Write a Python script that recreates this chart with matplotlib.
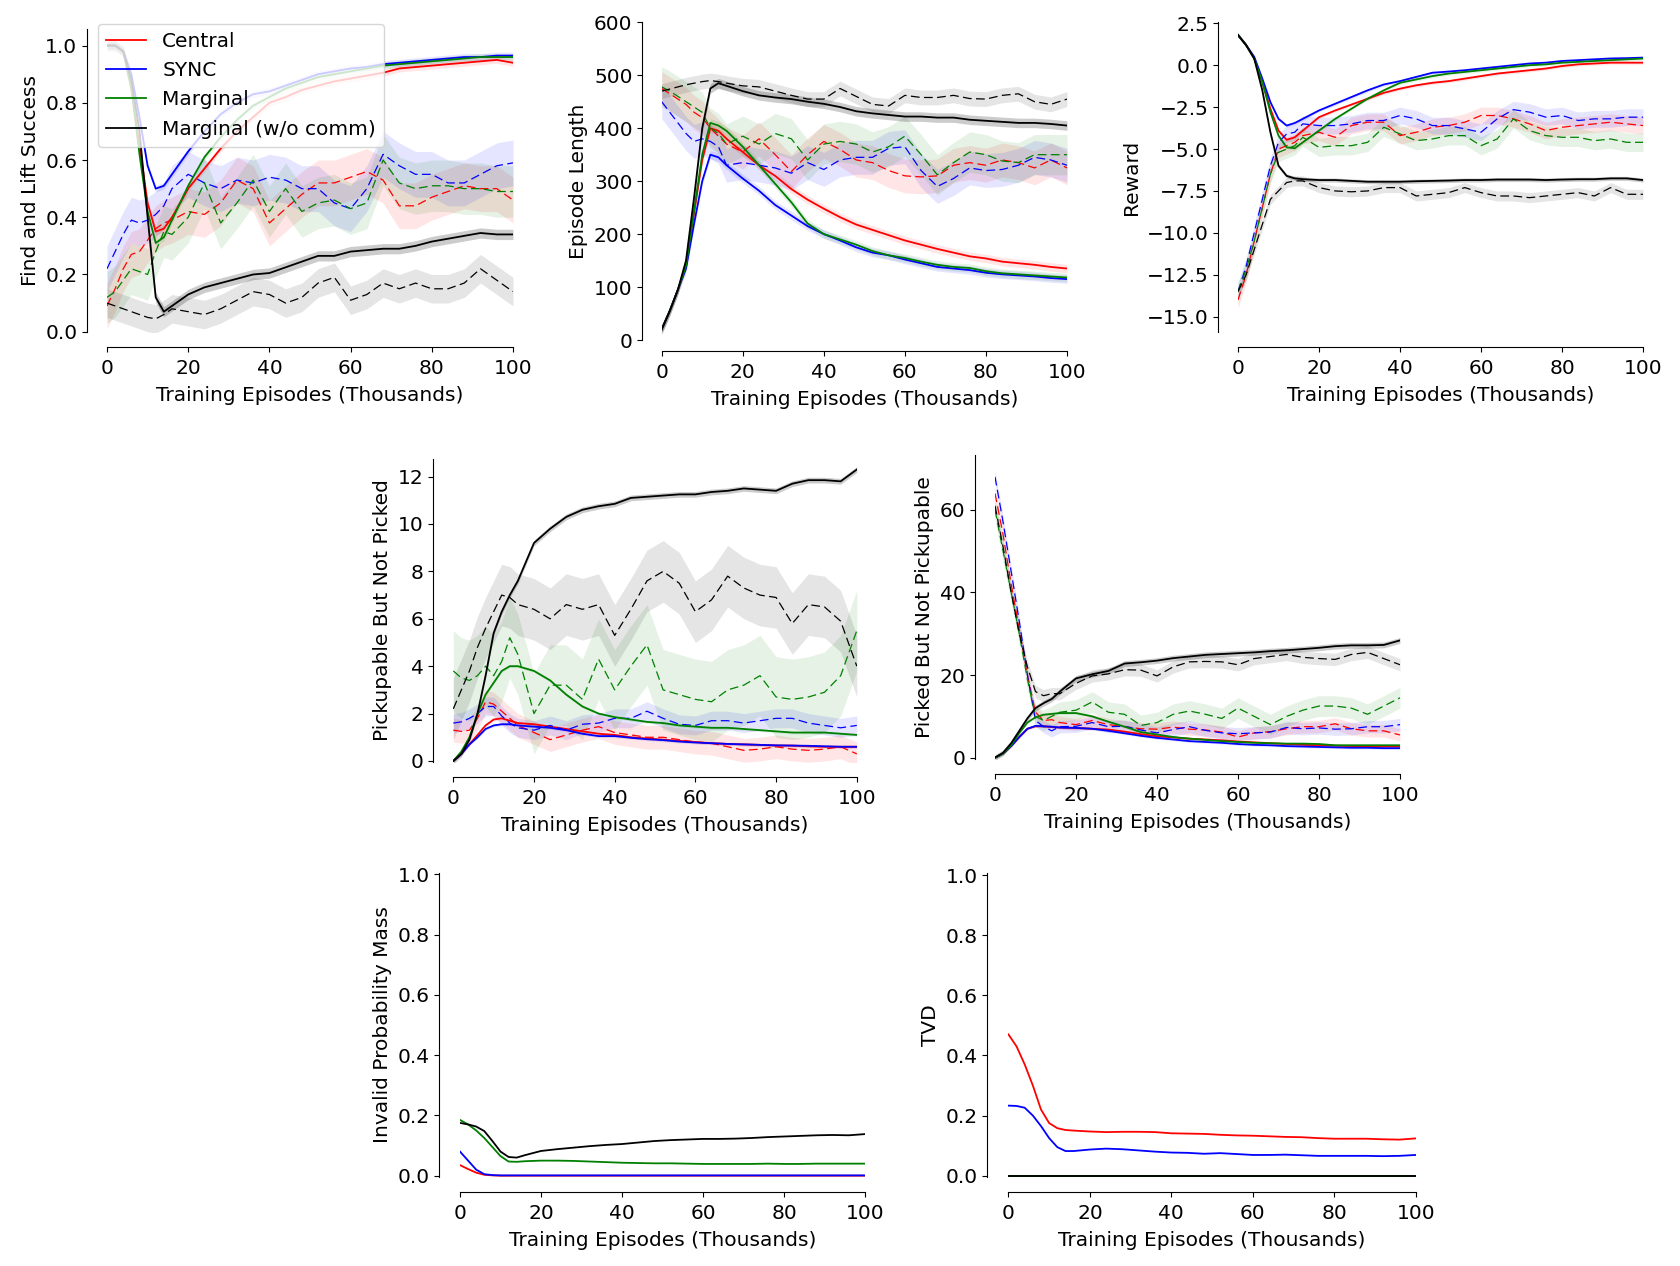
import matplotlib
matplotlib.use("Agg")
import matplotlib.pyplot as plt
import numpy as np

# x grid (thousands of training episodes)
X = [0, 2, 4, 6, 8, 10, 12, 14, 16, 20, 24, 28, 32, 36, 40, 44, 48, 52, 56, 60,
     64, 68, 72, 76, 80, 84, 88, 92, 96, 100]

METHODS = ["Central", "SYNC", "Marginal", "Marginal (w/o comm)"]
COLORS = ["red", "blue", "green", "black"]

# --- Find and Lift Success ---
SUCCESS_CENTRAL = [1.0, 1.0, 0.98, 0.85, 0.65, 0.45, 0.35, 0.36, 0.4, 0.5, 0.57, 0.64, 0.7, 0.75, 0.8,
                   0.82, 0.845, 0.86, 0.875, 0.885, 0.895, 0.905, 0.92, 0.925, 0.93, 0.935, 0.94, 0.945, 0.95, 0.94]
SUCCESS_SYNC = [1.0, 1.0, 0.98, 0.9, 0.75, 0.58, 0.5, 0.51, 0.55, 0.63, 0.7, 0.76, 0.8, 0.83, 0.84,
                0.86, 0.88, 0.9, 0.91, 0.92, 0.925, 0.935, 0.94, 0.945, 0.95, 0.955, 0.96, 0.96, 0.965, 0.965]
SUCCESS_MARGINAL = [1.0, 1.0, 0.98, 0.85, 0.62, 0.42, 0.31, 0.33, 0.39, 0.51, 0.61, 0.68, 0.74, 0.79, 0.82,
                    0.85, 0.87, 0.89, 0.9, 0.91, 0.92, 0.93, 0.935, 0.94, 0.945, 0.95, 0.955, 0.96, 0.96, 0.96]
SUCCESS_NOCOMM = [1.0, 1.0, 0.98, 0.88, 0.7, 0.4, 0.12, 0.07, 0.09, 0.13, 0.155, 0.17, 0.185, 0.2, 0.205,
                  0.225, 0.245, 0.265, 0.265, 0.28, 0.285, 0.29, 0.29, 0.3, 0.315, 0.325, 0.335, 0.345, 0.34, 0.34]
SUCCESS_CENTRAL_D = [0.09, 0.15, 0.22, 0.27, 0.28, 0.32, 0.36, 0.38, 0.39, 0.42, 0.41, 0.45, 0.53, 0.5, 0.38,
                     0.43, 0.48, 0.52, 0.52, 0.54, 0.56, 0.53, 0.44, 0.44, 0.47, 0.49, 0.51, 0.5, 0.5, 0.46]
SUCCESS_SYNC_D = [0.22, 0.28, 0.34, 0.39, 0.38, 0.39, 0.41, 0.44, 0.5, 0.55, 0.52, 0.5, 0.53, 0.52, 0.54,
                  0.53, 0.5, 0.5, 0.45, 0.43, 0.5, 0.62, 0.58, 0.55, 0.55, 0.52, 0.52, 0.55, 0.58, 0.59]
SUCCESS_MARGINAL_D = [0.12, 0.14, 0.18, 0.22, 0.21, 0.2, 0.28, 0.35, 0.34, 0.4, 0.52, 0.38, 0.45, 0.53, 0.42,
                      0.5, 0.42, 0.45, 0.46, 0.43, 0.45, 0.6, 0.52, 0.5, 0.51, 0.51, 0.5, 0.5, 0.49, 0.49]
SUCCESS_NOCOMM_D = [0.1, 0.09, 0.08, 0.07, 0.06, 0.05, 0.045, 0.06, 0.08, 0.07, 0.06, 0.08, 0.11, 0.14, 0.13,
                    0.1, 0.12, 0.17, 0.19, 0.11, 0.13, 0.17, 0.15, 0.17, 0.15, 0.15, 0.17, 0.22, 0.18, 0.14]
SUCCESS_BAND = [0.012, 0.012, 0.012, 0.018]
SUCCESS_BAND_D = [0.08, 0.08, 0.09, 0.05]

# --- Episode Length ---
LENGTH_CENTRAL = [20, 55, 95, 140, 240, 340, 400, 395, 380, 355, 330, 310, 285, 265, 248,
                  232, 218, 208, 198, 188, 180, 172, 165, 158, 154, 148, 145, 142, 138, 135]
LENGTH_SYNC = [20, 55, 95, 135, 220, 300, 350, 345, 330, 305, 282, 255, 235, 215, 200,
               188, 175, 165, 160, 152, 145, 138, 135, 132, 127, 124, 122, 120, 117, 115]
LENGTH_MARGINAL = [20, 55, 95, 140, 245, 350, 410, 405, 395, 365, 330, 295, 260, 220, 200,
                   190, 180, 168, 160, 155, 148, 142, 138, 136, 130, 126, 124, 122, 120, 118]
LENGTH_NOCOMM = [20, 55, 95, 150, 270, 400, 475, 485, 480, 470, 462, 458, 455, 450, 446,
                 440, 432, 428, 425, 422, 422, 420, 420, 416, 414, 412, 410, 410, 408, 405]
LENGTH_CENTRAL_D = [475, 465, 455, 445, 430, 420, 400, 385, 370, 355, 380, 350, 318, 350, 375,
                    360, 340, 335, 320, 310, 308, 310, 330, 335, 330, 340, 335, 325, 340, 325]
LENGTH_SYNC_D = [450, 430, 410, 390, 375, 380, 375, 365, 330, 335, 330, 325, 315, 335, 322,
                 340, 345, 345, 362, 365, 320, 290, 305, 325, 320, 322, 330, 345, 340, 330]
LENGTH_MARGINAL_D = [478, 470, 460, 450, 440, 430, 400, 390, 370, 385, 370, 390, 380, 340, 370,
                     375, 370, 355, 365, 385, 350, 312, 335, 355, 350, 338, 335, 350, 350, 350]
LENGTH_NOCOMM_D = [470, 474, 478, 482, 485, 488, 490, 488, 485, 480, 478, 470, 462, 455, 455,
                   475, 460, 445, 442, 462, 458, 458, 462, 456, 455, 462, 465, 450, 445, 455]
LENGTH_BAND = [8, 8, 8, 9]
LENGTH_BAND_D = [32, 32, 38, 14]

# --- Reward ---
REWARD_CENTRAL = [1.8, 1.2, 0.4, -1.0, -2.6, -3.9, -4.45, -4.3, -3.9, -3.1, -2.7, -2.35, -2.0, -1.65, -1.4,
                  -1.2, -1.05, -0.95, -0.8, -0.65, -0.5, -0.4, -0.3, -0.2, -0.05, 0.05, 0.1, 0.15, 0.15, 0.15]
REWARD_SYNC = [1.8, 1.2, 0.5, -0.8, -2.2, -3.2, -3.6, -3.45, -3.2, -2.7, -2.3, -1.9, -1.5, -1.15, -0.95,
               -0.7, -0.45, -0.38, -0.3, -0.2, -0.1, 0.0, 0.1, 0.15, 0.25, 0.3, 0.35, 0.4, 0.42, 0.45]
REWARD_MARGINAL = [1.8, 1.2, 0.4, -1.0, -2.8, -4.2, -4.9, -4.95, -4.6, -3.9, -3.2, -2.6, -2.0, -1.5, -1.05,
                   -0.85, -0.65, -0.5, -0.4, -0.3, -0.2, -0.1, 0.0, 0.05, 0.15, 0.2, 0.25, 0.3, 0.35, 0.4]
REWARD_NOCOMM = [1.8, 1.2, 0.4, -1.5, -4.0, -6.0, -6.6, -6.75, -6.8, -6.85, -6.85, -6.9, -6.95, -6.95, -6.95,
                 -6.92, -6.9, -6.88, -6.85, -6.85, -6.82, -6.82, -6.82, -6.85, -6.82, -6.8, -6.8, -6.75, -6.75, -6.85]
REWARD_CENTRAL_D = [-14.0, -12.5, -10.5, -8.5, -6.5, -5.0, -4.8, -4.6, -4.2, -4.0, -4.3, -3.6, -3.4, -3.4, -4.2,
                    -4.0, -3.7, -3.6, -3.4, -3.0, -3.0, -3.2, -3.5, -3.9, -3.7, -3.6, -3.5, -3.4, -3.5, -3.6]
REWARD_SYNC_D = [-13.5, -12.0, -10.0, -8.0, -6.0, -4.6, -4.1, -4.0, -3.5, -3.6, -3.6, -3.5, -3.3, -3.3, -3.0,
                 -3.2, -3.6, -3.6, -3.8, -4.0, -3.2, -2.65, -2.8, -3.1, -3.0, -3.3, -3.2, -3.2, -3.1, -3.1]
REWARD_MARGINAL_D = [-13.5, -12.2, -10.5, -8.5, -6.5, -5.2, -5.0, -4.8, -4.3, -4.9, -4.8, -4.8, -4.6, -3.7, -4.1,
                     -4.5, -4.4, -4.2, -4.2, -4.8, -4.4, -3.2, -3.9, -4.2, -4.3, -4.3, -4.5, -4.4, -4.6, -4.6]
REWARD_NOCOMM_D = [-13.5, -12.5, -11.0, -9.5, -8.0, -7.5, -7.0, -6.9, -6.9, -7.3, -7.5, -7.55, -7.5, -7.3, -7.3,
                   -7.8, -7.7, -7.6, -7.3, -7.6, -7.8, -7.8, -7.9, -7.8, -7.7, -7.6, -7.8, -7.3, -7.7, -7.7]
REWARD_BAND = [0.1, 0.1, 0.1, 0.12]
REWARD_BAND_D = [0.5, 0.5, 0.55, 0.3]

# --- Pickupable But Not Picked ---
PNP_CENTRAL = [0.0, 0.3, 0.7, 1.1, 1.5, 1.75, 1.8, 1.7, 1.6, 1.55, 1.45, 1.35, 1.25, 1.15, 1.1,
               1.0, 0.95, 0.9, 0.85, 0.8, 0.75, 0.72, 0.7, 0.68, 0.65, 0.65, 0.62, 0.6, 0.6, 0.6]
PNP_SYNC = [0.0, 0.3, 0.7, 1.0, 1.35, 1.5, 1.55, 1.55, 1.5, 1.45, 1.4, 1.3, 1.15, 1.05, 1.05,
            0.98, 0.92, 0.88, 0.82, 0.78, 0.75, 0.72, 0.7, 0.68, 0.66, 0.65, 0.64, 0.62, 0.6, 0.6]
PNP_MARGINAL = [0.0, 0.4, 1.0, 2.0, 2.8, 3.3, 3.8, 4.0, 4.0, 3.8, 3.4, 2.8, 2.3, 2.0, 1.85,
                1.75, 1.65, 1.6, 1.5, 1.45, 1.4, 1.4, 1.35, 1.3, 1.25, 1.2, 1.2, 1.2, 1.15, 1.1]
PNP_NOCOMM = [0.0, 0.3, 0.9, 2.0, 3.6, 5.4, 6.3, 7.0, 7.6, 9.2, 9.8, 10.3, 10.6, 10.75, 10.85,
              11.1, 11.15, 11.2, 11.25, 11.25, 11.35, 11.4, 11.5, 11.45, 11.4, 11.7, 11.85, 11.85, 11.8, 12.3]
PNP_CENTRAL_D = [1.3, 1.25, 1.3, 1.8, 2.5, 2.4, 2.1, 1.8, 1.5, 1.2, 0.9, 1.1, 1.3, 1.45, 1.2,
                 1.1, 1.0, 1.0, 0.9, 0.8, 0.75, 0.6, 0.45, 0.5, 0.6, 0.5, 0.45, 0.5, 0.6, 0.3]
PNP_SYNC_D = [1.6, 1.65, 1.8, 2.0, 2.3, 2.3, 1.9, 1.6, 1.4, 1.3, 1.5, 1.3, 1.55, 1.6, 1.8,
              1.8, 2.1, 1.8, 1.55, 1.5, 1.7, 1.7, 1.6, 1.7, 1.8, 1.8, 1.6, 1.5, 1.4, 1.5]
PNP_MARGINAL_D = [3.8, 3.5, 3.4, 3.6, 4.0, 3.6, 4.2, 5.2, 4.5, 2.0, 3.2, 3.2, 2.6, 4.3, 3.0,
                  4.0, 4.9, 3.0, 2.8, 2.6, 2.5, 3.0, 3.2, 3.6, 2.7, 2.6, 2.7, 2.9, 3.6, 5.5]
PNP_NOCOMM_D = [2.2, 3.0, 3.8, 4.8, 5.6, 6.3, 7.0, 6.9, 6.6, 6.4, 6.0, 6.6, 6.4, 6.6, 5.3,
                6.4, 7.6, 8.0, 7.5, 6.3, 6.8, 7.8, 7.3, 7.0, 6.9, 5.8, 6.6, 6.5, 5.9, 4.0]
PNP_BAND = [0.06, 0.06, 0.06, 0.12]
PNP_BAND_D = [0.5, 0.4, 1.7, 1.3]

# --- Picked But Not Pickupable ---
PBN_CENTRAL = [0.0, 1.0, 2.8, 5.0, 7.0, 7.6, 7.6, 7.4, 7.3, 7.2, 7.0, 6.8, 6.3, 5.7, 5.2,
               4.9, 4.6, 4.4, 4.2, 3.9, 3.7, 3.5, 3.3, 3.1, 3.0, 2.9, 2.8, 2.7, 2.7, 2.7]
PBN_SYNC = [0.0, 1.0, 2.8, 5.0, 7.0, 7.7, 7.6, 7.5, 7.3, 7.2, 7.0, 6.5, 5.9, 5.3, 4.8,
            4.4, 4.0, 3.8, 3.6, 3.3, 3.1, 3.0, 2.8, 2.7, 2.6, 2.5, 2.4, 2.4, 2.3, 2.3]
PBN_MARGINAL = [0.0, 1.0, 3.0, 6.0, 8.5, 9.8, 10.4, 10.6, 10.8, 10.8, 10.0, 8.7, 7.5, 6.2, 5.6,
                5.0, 4.6, 4.3, 4.0, 3.8, 3.6, 3.5, 3.4, 3.4, 3.3, 3.0, 3.0, 3.0, 3.0, 3.0]
PBN_NOCOMM = [0.0, 1.2, 3.5, 6.5, 9.5, 12.0, 13.2, 14.2, 16.0, 19.2, 20.2, 21.0, 22.8, 23.1, 23.5,
              24.1, 24.5, 24.9, 25.1, 25.3, 25.5, 25.8, 26.0, 26.3, 26.6, 27.0, 27.2, 27.2, 27.3, 28.4]
PBN_CENTRAL_D = [64, 54, 42, 31, 20, 11, 9.0, 9.2, 8.5, 8.0, 9.0, 8.0, 7.5, 7.0, 6.9,
                 7.4, 6.9, 6.7, 6.2, 5.0, 6.0, 6.3, 7.0, 7.5, 7.5, 8.2, 7.0, 6.5, 6.5, 5.5]
PBN_SYNC_D = [68, 57, 45, 33, 20, 9.0, 7.5, 6.5, 7.5, 7.6, 8.5, 7.5, 7.6, 6.7, 6.0,
              6.8, 7.5, 6.6, 6.0, 5.8, 6.0, 6.2, 7.3, 7.0, 7.2, 6.9, 7.0, 7.5, 7.5, 8.0]
PBN_MARGINAL_D = [60, 50, 40, 30, 19, 10, 9.0, 10.0, 11.0, 11.5, 13.5, 11.0, 10.5, 7.8, 8.5,
                  10.5, 11.3, 10.5, 9.5, 12.0, 10.0, 8.0, 10.0, 11.5, 12.5, 12.5, 12.0, 10.5, 12.5, 14.5]
PBN_NOCOMM_D = [61, 51, 40, 30, 22, 16, 15.0, 15.5, 15.5, 18.0, 19.8, 20.3, 21.3, 21.2, 19.8,
                22.0, 23.2, 23.3, 23.2, 22.5, 24.0, 24.5, 25.0, 24.3, 24.0, 23.8, 25.0, 25.5, 24.0, 22.5]
PBN_BAND = [0.3, 0.3, 0.3, 0.7]
PBN_BAND_D = [1.5, 1.5, 2.5, 1.5]

# --- Invalid Probability Mass ---
INVALID_CENTRAL = [0.035, 0.022, 0.01, 0.003, 0.001, 0.0, 0.0, 0.0, 0.0, 0.0, 0.0, 0.0, 0.0, 0.0, 0.0,
                   0.0, 0.0, 0.0, 0.0, 0.0, 0.0, 0.0, 0.0, 0.0, 0.0, 0.0, 0.0, 0.0, 0.0, 0.0]
INVALID_SYNC = [0.08, 0.05, 0.02, 0.005, 0.002, 0.001, 0.001, 0.001, 0.001, 0.001, 0.001, 0.001, 0.001, 0.001,
                0.001, 0.001, 0.001, 0.001, 0.001, 0.001, 0.001, 0.001, 0.001, 0.001, 0.001, 0.001, 0.001, 0.001,
                0.001, 0.001]
INVALID_MARGINAL = [0.185, 0.17, 0.15, 0.125, 0.095, 0.065, 0.047, 0.046, 0.048, 0.05, 0.05, 0.049, 0.047, 0.045,
                    0.043, 0.042, 0.041, 0.041, 0.04, 0.039, 0.039, 0.039, 0.039, 0.04, 0.039, 0.039, 0.04, 0.04,
                    0.04, 0.04]
INVALID_NOCOMM = [0.175, 0.17, 0.163, 0.148, 0.115, 0.08, 0.062, 0.06, 0.068, 0.082, 0.088, 0.093, 0.098, 0.102,
                  0.105, 0.11, 0.115, 0.118, 0.12, 0.122, 0.122, 0.123, 0.125, 0.128, 0.13, 0.132, 0.134, 0.135,
                  0.134, 0.138]

# --- TVD ---
TVD_CENTRAL = [0.47, 0.43, 0.37, 0.3, 0.22, 0.175, 0.158, 0.152, 0.15, 0.147, 0.145, 0.146, 0.146, 0.145, 0.141,
               0.14, 0.139, 0.136, 0.134, 0.133, 0.131, 0.129, 0.128, 0.125, 0.123, 0.123, 0.123, 0.121, 0.12, 0.124]
TVD_SYNC = [0.233, 0.232, 0.226, 0.2, 0.165, 0.125, 0.095, 0.082, 0.082, 0.087, 0.09, 0.088, 0.084, 0.08, 0.077,
            0.076, 0.073, 0.075, 0.072, 0.069, 0.069, 0.07, 0.068, 0.066, 0.066, 0.066, 0.066, 0.065, 0.066, 0.069]
TVD_MARGINAL = [0.0, 0.0, 0.0, 0.0, 0.0, 0.0, 0.0, 0.0, 0.0, 0.0, 0.0, 0.0, 0.0, 0.0, 0.0,
                0.0, 0.0, 0.0, 0.0, 0.0, 0.0, 0.0, 0.0, 0.0, 0.0, 0.0, 0.0, 0.0, 0.0, 0.0]
TVD_NOCOMM = [0.0, 0.0, 0.0, 0.0, 0.0, 0.0, 0.0, 0.0, 0.0, 0.0, 0.0, 0.0, 0.0, 0.0, 0.0,
              0.0, 0.0, 0.0, 0.0, 0.0, 0.0, 0.0, 0.0, 0.0, 0.0, 0.0, 0.0, 0.0, 0.0, 0.0]

W, H, DPI = 1680, 1266, 100
plt.rcParams["font.family"] = ["DejaVu Sans"]
plt.rcParams["font.size"] = 14.5

fig = plt.figure(figsize=(W / DPI, H / DPI), dpi=DPI)


def px_axes(left, right, top, bottom):
    # pixel box (top-left origin) -> figure axes
    return fig.add_axes([left / W, 1 - bottom / H, (right - left) / W, (bottom - top) / H])


def style(ax, ylabel, ylim, yticks, off_left, off_bottom):
    ax.set_xlim(0, 100)
    ax.set_ylim(*ylim)
    ax.set_xticks([0, 20, 40, 60, 80, 100])
    if yticks is not None:
        ax.set_yticks(yticks)
    ax.spines["top"].set_visible(False)
    ax.spines["right"].set_visible(False)
    ax.spines["left"].set_position(("outward", off_left * 72 / DPI))
    ax.spines["bottom"].set_position(("outward", off_bottom * 72 / DPI))
    ax.tick_params(axis="x", pad=5)
    ax.set_xlabel("Training Episodes (Thousands)", labelpad=6)
    ax.set_ylabel(ylabel)


def draw(ax, solids, dashed, band, band_d):
    x = np.array(X)
    for i, c in enumerate(COLORS):
        if dashed is not None:
            yd = np.array(dashed[i])
            ax.fill_between(x, yd - band_d[i], yd + band_d[i], color=c,
                            alpha=0.1, lw=0)
            ax.plot(x, yd, color=c, lw=0.9, ls=(0, (7, 3.5)))
        ys = np.array(solids[i])
        if band is not None:
            ax.fill_between(x, ys - band[i], ys + band[i], color=c,
                            alpha=0.2 if c == "black" else 0.1, lw=0)
        ax.plot(x, ys, color=c, lw=1.3, label=METHODS[i])


# top row
ax1 = px_axes(107, 513, 29, 331.7)
draw(ax1, [SUCCESS_CENTRAL, SUCCESS_SYNC, SUCCESS_MARGINAL, SUCCESS_NOCOMM],
     [SUCCESS_CENTRAL_D, SUCCESS_SYNC_D, SUCCESS_MARGINAL_D, SUCCESS_NOCOMM_D],
     SUCCESS_BAND, SUCCESS_BAND_D)
style(ax1, "Find and Lift Success", (0, 1.058), [0, 0.2, 0.4, 0.6, 0.8, 1.0], 20, 15)

ax2 = px_axes(661.7, 1067, 22.3, 340)
draw(ax2, [LENGTH_CENTRAL, LENGTH_SYNC, LENGTH_MARGINAL, LENGTH_NOCOMM],
     [LENGTH_CENTRAL_D, LENGTH_SYNC_D, LENGTH_MARGINAL_D, LENGTH_NOCOMM_D],
     LENGTH_BAND, LENGTH_BAND_D)
style(ax2, "Episode Length", (0, 600), [0, 100, 200, 300, 400, 500, 600], 19.4, 10.7)

ax3 = px_axes(1238, 1643, 21.6, 332.3)
draw(ax3, [REWARD_CENTRAL, REWARD_SYNC, REWARD_MARGINAL, REWARD_NOCOMM],
     [REWARD_CENTRAL_D, REWARD_SYNC_D, REWARD_MARGINAL_D, REWARD_NOCOMM_D],
     REWARD_BAND, REWARD_BAND_D)
style(ax3, "Reward", (-15.93, 2.6), [-15, -12.5, -10, -7.5, -5, -2.5, 0, 2.5], 20, 14.4)

# middle row
ax4 = px_axes(453.3, 856.8, 459.3, 761.7)
draw(ax4, [PNP_CENTRAL, PNP_SYNC, PNP_MARGINAL, PNP_NOCOMM],
     [PNP_CENTRAL_D, PNP_SYNC_D, PNP_MARGINAL_D, PNP_NOCOMM_D],
     PNP_BAND, PNP_BAND_D)
style(ax4, "Pickupable But Not Picked", (-0.03, 12.73), [0, 2, 4, 6, 8, 10, 12], 20, 15)

ax5 = px_axes(995, 1400, 455, 758.9)
draw(ax5, [PBN_CENTRAL, PBN_SYNC, PBN_MARGINAL, PBN_NOCOMM],
     [PBN_CENTRAL_D, PBN_SYNC_D, PBN_MARGINAL_D, PBN_NOCOMM_D],
     PBN_BAND, PBN_BAND_D)
style(ax5, "Picked But Not Pickupable", (-0.3, 73.3), [0, 20, 40, 60], 20, 15)

# bottom row
ax6 = px_axes(460, 865, 872.7, 1176.9)
draw(ax6, [INVALID_CENTRAL, INVALID_SYNC, INVALID_MARGINAL, INVALID_NOCOMM], None, None, None)
style(ax6, "Invalid Probability Mass", (-0.004, 1.005), [0, 0.2, 0.4, 0.6, 0.8, 1.0], 20.7, 15)

ax7 = px_axes(1008.4, 1415.8, 873.5, 1176.9)
draw(ax7, [TVD_CENTRAL, TVD_SYNC, TVD_MARGINAL, TVD_NOCOMM], None, None, None)
style(ax7, "TVD", (-0.004, 1.005), [0, 0.2, 0.4, 0.6, 0.8, 1.0], 21, 15)

ax1.legend(loc="upper left", bbox_to_anchor=(97.7 / W, 1 - 24.3 / H),
           bbox_transform=fig.transFigure, borderaxespad=0, labelspacing=0.5)

fig.savefig("out.png", dpi=DPI)
